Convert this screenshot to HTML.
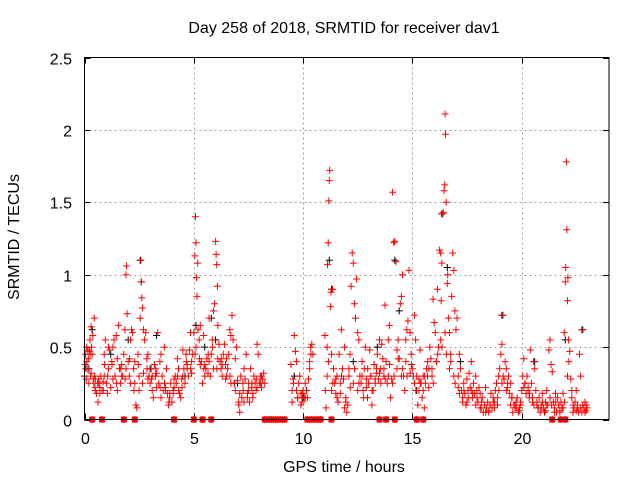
<!DOCTYPE html>
<html><head><meta charset="utf-8"><style>
html,body{margin:0;padding:0;background:#fff;}
svg{display:block;font-family:"Liberation Sans",sans-serif;}
</style></head><body>
<svg id="chart" width="640" height="480">
<rect width="640" height="480" fill="#fff"/>
<text x="344" y="33" text-anchor="middle" font-size="16">Day 258 of 2018, SRMTID for receiver dav1</text>
<text x="344" y="472" text-anchor="middle" font-size="16">GPS time / hours</text>
<text transform="translate(19,237) rotate(-90)" text-anchor="middle" font-size="16">SRMTID / TECUs</text>
<g id="grid"></g><g id="ticks"></g><g id="marks"></g>
<rect x="84.5" y="57.5" width="524.5" height="362" fill="none" stroke="#000" stroke-width="1"/>
</svg>
<script>
const xTicks=[0,5,10,15,20];
const yTicks=[0,0.5,1,1.5,2,2.5];
const yTickLabels=["0","0.5","1","1.5","2","2.5"];
const redT=[0,0.03,0.05,0.08,0.1,0.12,0.15,0.18,0.2,0.22,0.25,0.28,0.3,0.32,0.35,0.38,0.4,0.42,0.45,0.48,0.5,0.55,0.6,0.62,0.65,0.7,0.75,0.8,0.85,0.9,0.92,0.95,1,1.05,1.1,1.15,1.2,1.25,1.3,1.35,1.4,1.45,1.5,1.55,1.6,1.65,1.7,1.75,1.8,1.85,1.9,1.92,1.95,2,2.05,2.1,2.15,2.2,2.25,2.3,2.35,2.4,2.45,2.5,2.55,2.58,2.6,2.62,2.65,2.7,2.75,2.8,2.85,2.9,2.95,3,3.05,3.1,3.15,3.2,3.25,3.3,3.35,3.4,3.45,3.5,3.55,3.6,3.65,3.7,3.75,3.8,3.85,3.9,3.95,4,4.05,4.1,4.15,4.2,4.25,4.3,4.35,4.4,4.45,4.5,4.55,4.6,4.65,4.7,4.75,4.8,4.85,4.9,4.95,5,5.05,5.08,5.1,5.12,5.15,5.18,5.2,5.25,5.3,5.35,5.4,5.45,5.5,5.55,5.6,5.65,5.7,5.75,5.8,5.85,5.9,5.95,6,6.02,6.05,6.08,6.1,6.15,6.2,6.25,6.3,6.35,6.4,6.45,6.5,6.55,6.6,6.65,6.7,6.75,6.8,6.85,6.9,6.95,7,7.05,7.1,7.15,7.2,7.25,7.3,7.35,7.4,7.45,7.5,7.55,7.6,7.65,7.7,7.75,7.8,7.85,7.9,7.95,8,8.05,8.1,8.15,8.2,8.25,9.45,9.5,9.55,9.6,9.65,9.7,9.75,9.8,9.85,9.9,9.95,10,10.05,10.1,10.15,10.2,10.25,10.3,10.35,10.4,10.45,11,11.02,11.05,11.1,11.12,11.15,11.18,11.2,11.22,11.25,11.28,11.3,11.35,11.4,11.45,11.5,11.55,11.6,11.65,11.7,11.75,11.8,11.85,11.9,11.95,12,12.05,12.1,12.15,12.2,12.25,12.3,12.35,12.4,12.45,12.5,12.55,12.6,12.65,12.7,12.75,12.8,12.85,12.9,12.95,13,13.05,13.1,13.15,13.2,13.25,13.3,13.35,13.4,13.45,13.5,13.55,13.6,13.65,13.7,13.75,13.8,13.85,13.9,13.95,14,14.05,14.1,14.15,14.2,14.25,14.3,14.35,14.4,14.45,14.5,14.55,14.6,14.65,14.7,14.75,14.8,14.85,14.9,14.95,15,15.05,15.1,15.15,15.2,15.25,15.3,15.35,15.4,15.45,15.5,15.55,15.6,15.65,15.7,15.75,15.8,15.85,15.9,15.95,16,16.05,16.1,16.15,16.2,16.25,16.3,16.32,16.35,16.4,16.42,16.45,16.48,16.5,16.52,16.55,16.6,16.62,16.65,16.7,16.75,16.8,16.85,16.9,16.95,17,17.05,17.1,17.15,17.2,17.25,17.3,17.35,17.4,17.45,17.5,17.55,17.6,17.65,17.7,17.75,17.8,17.85,17.9,17.95,18,18.05,18.1,18.15,18.2,18.25,18.3,18.35,18.4,18.45,18.5,18.55,18.6,18.65,18.7,18.75,18.8,18.85,18.9,18.95,19,19.05,19.1,19.15,19.2,19.25,19.3,19.35,19.4,19.45,19.5,19.55,19.6,19.65,19.7,19.75,19.8,19.85,19.9,19.95,20,20.05,20.1,20.15,20.2,20.25,20.3,20.35,20.4,20.45,20.5,20.55,20.6,20.65,20.7,20.75,20.8,20.85,20.9,20.95,21,21.05,21.1,21.15,21.2,21.25,21.3,21.35,21.4,21.45,21.5,21.55,21.6,21.65,21.7,21.75,21.8,21.85,21.9,21.95,22,22.02,22.05,22.07,22.1,22.12,22.15,22.2,22.25,22.3,22.35,22.4,22.45,22.5,22.55,22.6,22.65,22.7,22.75,22.8,22.85,22.9,22.95,23];
const redV=[0.3,0.38,0.45,0.28,0.5,0.35,0.48,0.42,0.25,0.47,0.55,0.3,0.64,0.5,0.45,0.58,0.28,0.25,0.7,0.22,0.2,0.18,0.25,0.12,0.28,0.22,0.3,0.2,0.26,0.45,0.38,0.55,0.25,0.18,0.5,0.48,0.22,0.4,0.5,0.55,0.3,0.58,0.2,0.65,0.35,0.25,0.38,0.3,0.45,0.62,1.0,1.06,0.73,0.4,0.3,0.55,0.62,0.6,0.35,0.25,0.1,0.08,0.45,0.3,0.7,1.1,0.95,0.84,0.77,0.62,0.55,0.6,0.42,0.45,0.3,0.25,0.35,0.2,0.15,0.38,0.3,0.32,0.6,0.25,0.4,0.45,0.3,0.2,0.5,0.22,0.35,0.18,0.1,0.15,0.25,0.12,0.2,0.22,0.3,0.25,0.42,0.35,0.18,0.15,0.28,0.48,0.35,0.25,0.45,0.38,0.3,0.48,0.6,0.32,0.45,0.6,1.13,1.4,1.22,0.98,0.85,1.08,0.62,0.55,0.65,0.4,0.25,0.58,0.38,0.35,0.42,0.32,0.7,0.3,0.45,0.55,0.75,0.8,1.23,1.14,1.07,0.92,0.65,0.52,0.4,0.35,0.3,0.45,0.52,0.38,0.42,0.35,0.45,0.62,0.58,0.72,0.55,0.25,0.42,0.5,0.27,0.12,0.05,0.3,0.15,0.25,0.35,0.28,0.45,0.15,0.2,0.12,0.35,0.22,0.18,0.3,0.25,0.2,0.52,0.45,0.25,0.3,0.22,0.28,0.32,0.25,0.38,0.2,0.28,0.58,0.47,0.4,0.15,0.25,0.3,0.18,0.12,0.2,0.15,0.25,0.2,0.15,0.28,0.4,0.5,0.52,0.45,0.58,0.2,0.08,0.5,1.07,1.22,1.51,1.65,1.72,0.78,0.88,0.45,0.9,0.35,0.25,0.18,0.3,0.12,0.45,0.25,0.62,0.35,0.28,0.5,0.15,0.05,0.1,0.35,0.45,0.92,1.15,1.08,0.8,0.7,0.97,0.6,0.55,0.3,0.25,0.4,0.2,0.35,0.5,0.28,0.15,0.25,0.48,0.3,0.1,0.2,0.38,0.25,0.32,0.45,0.28,0.55,0.35,0.52,0.42,0.3,0.79,0.4,0.25,0.55,0.65,0.15,0.28,1.57,1.22,1.23,1.09,0.48,0.55,0.42,0.8,0.85,1.0,0.3,0.2,0.55,0.62,0.68,1.03,0.6,0.45,0.35,0.3,0.72,0.55,0.3,0.1,0.2,0.48,0.25,0.15,0.3,0.08,0.25,0.35,0.4,0.22,0.5,0.42,0.3,0.83,0.67,0.6,0.4,0.9,0.5,1.17,1.15,0.82,1.08,1.42,1.43,1.58,1.62,2.11,1.97,1.5,0.94,1.0,0.7,0.6,0.45,0.85,1.15,1.03,0.75,0.62,0.7,0.3,0.45,0.35,0.2,0.12,0.25,0.18,0.1,0.28,0.2,0.32,0.22,0.4,0.15,0.25,0.18,0.3,0.2,0.12,0.22,0.18,0.08,0.15,0.05,0.1,0.22,0.08,0.12,0.05,0.1,0.18,0.08,0.15,0.12,0.2,0.25,0.1,0.3,0.35,0.45,0.52,0.72,0.28,0.4,0.35,0.22,0.3,0.18,0.25,0.15,0.05,0.1,0.08,0.12,0.15,0.05,0.08,0.12,0.2,0.3,0.42,0.25,0.18,0.3,0.22,0.15,0.48,0.25,0.12,0.4,0.35,0.2,0.1,0.08,0.15,0.05,0.1,0.18,0.08,0.05,0.12,0.2,0.1,0.48,0.55,0.38,0.33,0.12,0.08,0.18,0.05,0.15,0.1,0.05,0.12,0.08,0.18,0.6,0.95,1.05,1.78,1.31,0.82,0.98,0.55,0.47,0.28,0.15,0.05,0.08,0.12,0.2,0.08,0.05,0.45,0.3,0.62,0.1,0.08,0.12,0.06,0.08];
const red2T=[0.1,0.3,0.5,0.7,0.9,1.1,1.3,1.5,1.7,1.9,2.1,2.3,2.5,2.7,2.9,3.1,3.3,3.5,3.7,3.9,4.1,4.3,4.5,4.7,4.9,5.1,5.3,5.5,5.7,5.9,6.1,6.3,6.5,6.7,6.9,7.1,7.3,7.5,7.7,7.9,8.1,9.5,9.7,9.9,10.1,10.3,11.1,11.3,11.5,11.7,11.9,12.1,12.3,12.5,12.7,12.9,13.1,13.3,13.5,13.7,13.9,14.1,14.3,14.5,14.7,14.9,15.1,15.3,15.5,15.7,15.9,16.1,16.3,16.5,16.7,16.9,17.1,17.3,17.5,17.7,17.9,18.1,18.3,18.5,18.7,18.9,19.1,19.3,19.5,19.7,19.9,20.1,20.3,20.5,20.7,20.9,21.1,21.3,21.5,21.7,21.9,22.1,22.3,22.5,22.7,22.9];
const red2V=[0.4,0.32,0.28,0.18,0.3,0.35,0.28,0.42,0.3,0.35,0.25,0.4,0.2,0.32,0.28,0.3,0.22,0.15,0.2,0.18,0.28,0.2,0.3,0.35,0.4,0.5,0.38,0.3,0.4,0.35,0.42,0.38,0.3,0.25,0.2,0.18,0.12,0.25,0.15,0.22,0.3,0.12,0.2,0.1,0.15,0.35,0.3,0.2,0.28,0.18,0.08,0.3,0.25,0.2,0.3,0.22,0.3,0.28,0.32,0.35,0.3,0.25,0.35,0.3,0.4,0.32,0.25,0.28,0.2,0.3,0.35,0.4,0.55,0.6,0.35,0.3,0.22,0.15,0.12,0.2,0.1,0.08,0.1,0.06,0.12,0.15,0.25,0.2,0.1,0.1,0.06,0.22,0.2,0.15,0.12,0.08,0.06,0.15,0.05,0.1,0.08,0.3,0.2,0.06,0.08,0.05];
const red3T=[0.06,0.26,0.46,0.66,0.86,1.06,1.26,1.46,1.66,1.86,2.06,2.26,2.46,2.66,2.86,3.06,3.26,3.46,3.66,3.86,4.06,4.26,4.46,4.66,4.86,5.06,5.26,5.46,5.66,5.86,6.06,6.26,6.46,6.66,6.86,7.06,7.26,7.46,7.66,7.86,8.06,9.56,9.76,9.96,10.16,10.36,11.16,11.36,11.56,11.76,11.96,12.16,12.36,12.56,12.76,12.96,13.16,13.36,13.56,13.76,13.96,14.16,14.36,14.56,14.76,14.96,15.16,15.36,15.56,15.76,15.96,16.16,16.36,16.56,16.76,16.96,17.16,17.36,17.56,17.76,17.96,18.16,18.36,18.56,18.76,18.96,19.16,19.36,19.56,19.76,19.96,20.16,20.36,20.56,20.76,20.96,21.16,21.36,21.56,21.76,21.96,22.16,22.36,22.56,22.76,22.96];
const red3V=[0.35,0.45,0.3,0.25,0.2,0.3,0.38,0.25,0.35,0.28,0.42,0.2,0.38,0.25,0.35,0.28,0.35,0.22,0.25,0.12,0.18,0.3,0.22,0.4,0.35,0.45,0.42,0.35,0.45,0.5,0.35,0.42,0.28,0.3,0.25,0.1,0.2,0.18,0.25,0.28,0.25,0.25,0.15,0.18,0.2,0.45,0.4,0.25,0.15,0.3,0.12,0.22,0.35,0.25,0.15,0.35,0.2,0.35,0.25,0.28,0.38,0.3,0.42,0.35,0.3,0.38,0.2,0.25,0.3,0.35,0.25,0.45,0.5,0.45,0.4,0.25,0.18,0.2,0.15,0.18,0.15,0.12,0.05,0.1,0.08,0.2,0.3,0.25,0.15,0.08,0.1,0.25,0.18,0.1,0.08,0.12,0.1,0.1,0.12,0.06,0.12,0.4,0.1,0.1,0.05,0.1];
const zeroT=[0.35,0.8,1.8,2.3,4.1,5.0,5.4,5.8,8.25,8.35,8.45,8.55,8.65,8.75,8.85,8.95,9.05,9.15,10.2,10.3,10.4,10.5,10.6,10.7,10.8,11.3,13.5,13.8,14.2,15.2,15.5,21.4,21.8,22.0];
const blackT=[0,0.2,0.35,1.2,2.0,2.55,2.6,3.0,3.3,4.6,5.1,5.5,5.8,6.0,7.0,9.6,10.0,11.2,11.3,12.3,13.4,14.2,14.4,15.2,16.35,16.6,17.2,19.1,20.6,22.0,22.8];
const blackV=[0.3,0.35,0.62,0.45,0.55,1.1,0.95,0.35,0.58,0.3,0.65,0.5,0.7,0.55,0.25,0.3,0.15,1.1,0.9,0.4,0.5,1.1,0.75,0.2,1.42,1.05,0.4,0.72,0.4,0.55,0.62];

const NS='http://www.w3.org/2000/svg';
const X0=84.5,X1=609,Y0=419.5,Y1=57.5;
function xs(t){return X0+(X1-X0)*t/24;}
function ys(v){return Y0-(Y0-Y1)*v/2.5;}
const grid=document.getElementById('grid'),ticks=document.getElementById('ticks'),marks=document.getElementById('marks');
function ln(p,x1,y1,x2,y2,st,dash){const l=document.createElementNS(NS,'line');l.setAttribute('x1',x1);l.setAttribute('y1',y1);l.setAttribute('x2',x2);l.setAttribute('y2',y2);l.setAttribute('stroke',st);if(dash)l.setAttribute('stroke-dasharray',dash);p.appendChild(l);return l;}
xTicks.forEach(t=>{const x=Math.round(xs(t))+0.5;
 if(t>0){const g=ln(grid,x,Y1,x,Y0,'#a0a0a0','2,3');
 
 }
 ln(ticks,x,Y0,x,Y0-6,'#000');ln(ticks,x,Y1,x,Y1+6,'#000');
 const tx=document.createElementNS(NS,'text');tx.setAttribute('x',x);tx.setAttribute('y',444);tx.setAttribute('text-anchor','middle');tx.setAttribute('font-size','16');tx.textContent=t;
 
 
 ticks.appendChild(tx);});
yTicks.forEach((v,i)=>{const y=Math.round(ys(v))+0.5;
 if(v>0&&v<2.5){const g=ln(grid,X0,y,X1,y,'#a0a0a0','2,3');
 
 }
 ln(ticks,X0,y,X0+6,y,'#000');ln(ticks,X1,y,X1-6,y,'#000');
 const tx=document.createElementNS(NS,'text');tx.setAttribute('x',72);tx.setAttribute('y',y+6);tx.setAttribute('text-anchor','end');tx.setAttribute('font-size','16');tx.textContent=yTickLabels[i];
 
 
 ticks.appendChild(tx);});
function plus(T,V,color,name){let d='';T.forEach((t,i)=>{const x=xs(t),y=ys(V[i]);d+=`M${(x-3.5).toFixed(1)} ${y.toFixed(1)}h7M${x.toFixed(1)} ${(y-3.5).toFixed(1)}v7`;});
 const p=document.createElementNS(NS,'path');p.setAttribute('d',d);p.setAttribute('stroke',color);p.setAttribute('stroke-width','1');p.setAttribute('fill','none');
 
 
 marks.appendChild(p);}
plus(blackT,blackV,'#000','black-series-points');
plus(redT,redV,'#ff0000','red-series-points');
plus(red2T,red2V,'#ff0000','red-series-points-extra');
plus(red3T,red3V,'#ff0000','red-series-points-more');
const zeroV=zeroT.map(()=>0);
plus(zeroT,zeroV,'#ff0000','zero-value-points');
zeroT.forEach(t=>{const r=document.createElementNS(NS,'rect');r.setAttribute('x',xs(t)-3);r.setAttribute('y',ys(0)-3);r.setAttribute('width',6);r.setAttribute('height',6);r.setAttribute('fill','#ff0000');
 
 
 marks.appendChild(r);});
</script>
</body></html>
